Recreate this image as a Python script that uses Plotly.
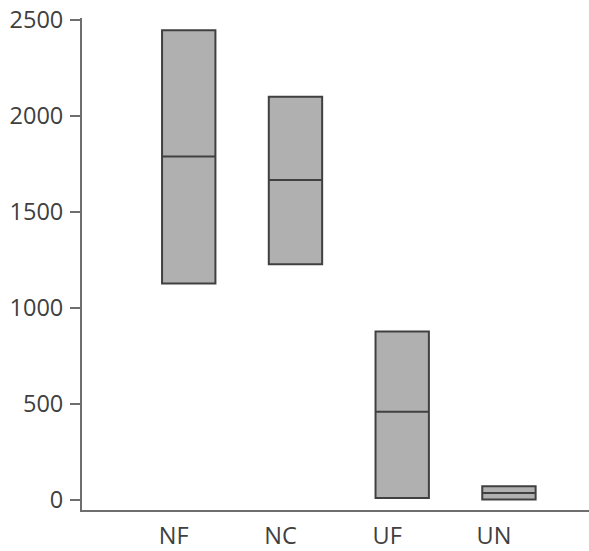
import plotly.graph_objects as go

categories = ["NF", "NC", "UF", "UN"]
q1 = [1127, 1227, 10, 3]
median = [1787, 1665, 459, 36]
q3 = [2444, 2098, 877, 72]
lower = [1127, 1227, 10, 3]
upper = [2444, 2098, 877, 72]

fig = go.Figure()
fig.add_trace(go.Box(
    x=[0, 1, 2, 3],
    q1=q1, median=median, q3=q3,
    lowerfence=lower, upperfence=upper,
    width=0.5,
    whiskerwidth=0.3,
    fillcolor="#b0b0b0",
    line=dict(color="#404040", width=2),
    boxpoints=False,
    showlegend=False,
))

font = dict(family="Open Sans, Noto Sans, sans-serif", size=23.5, color="#404040")
fig.update_layout(
    width=589, height=551,
    margin=dict(l=82, r=0, t=18, b=38),
    paper_bgcolor="white", plot_bgcolor="white",
    font=font,
    xaxis=dict(
        range=[-1.0, 3.75],
        tickmode="array", tickvals=[0, 1, 2, 3], ticktext=categories,
        showgrid=False, zeroline=False,
        showline=True, linecolor="#6e6e6e", linewidth=2,
        ticks="", ticklabelshift=-15, ticklabelstandoff=4,
        ticklabeloverflow="allow",
    ),
    yaxis=dict(
        range=[-52, 2508],
        tickvals=[0, 500, 1000, 1500, 2000, 2500],
        showgrid=False, zeroline=False,
        showline=True, linecolor="#6e6e6e", linewidth=2,
        ticks="outside", ticklen=10, tickwidth=2, tickcolor="#6e6e6e",
        ticklabelstandoff=2, ticklabeloverflow="allow",
    ),
)
fig.write_html(
    "out.html",
    config={"displayModeBar": False},
    post_script="document.body.style.margin='0';document.body.style.overflow='hidden';",
)
